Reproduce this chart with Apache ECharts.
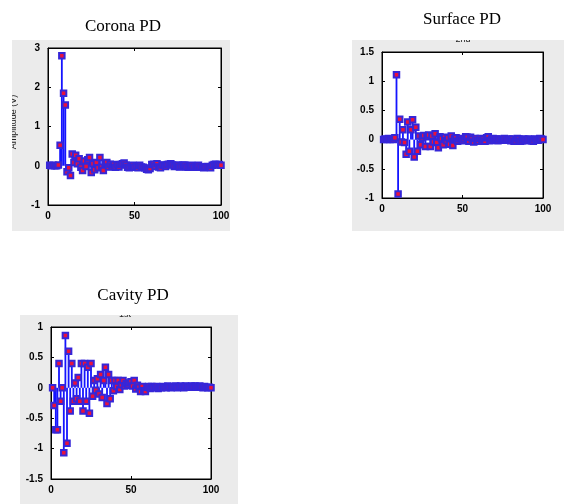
<!DOCTYPE html>
<html>
<head>
<meta charset="utf-8">
<title>PD pulse stem plots</title>
<script src="https://cdn.jsdelivr.net/npm/echarts/dist/echarts.min.js"></script>
<style>
  html, body { margin: 0; padding: 0; background: #fff; }
  #chart { width: 572px; height: 504px; }
</style>
</head>
<body>
<div id="chart"></div>
<script>
// Sample index 1..100 shared by all three panels
const sampleIndex = Array.from({ length: 100 }, (_, i) => i + 1);

const titles = ['Corona PD', 'Surface PD', 'Cavity PD'];

// Pulse amplitudes, one value per sample
const coronaValues = [
  0.01, 0, 0.01, 0, 0, 0.02, 0.52, 2.8, 1.85, 1.55,
  -0.15, -0.05, -0.25, 0.3, 0.08, 0.27, 0.05, 0.18, -0.04, -0.12,
  0.12, -0.02, 0.15, 0.21, -0.17, 0.05, -0.1, 0.08, -0.05, 0.21,
  -0.04, -0.12, 0.06, 0.08, -0.03, 0.04, -0.02, 0.03, -0.04, 0.02,
  -0.03, 0.03, 0.05, 0.07, 0.02, -0.04, -0.05, -0.03, 0.01, -0.04,
  -0.02, -0.05, 0.01, -0.03, -0.04, -0.06, -0.09, -0.1, -0.07, 0.03,
  0.04, -0.02, 0.05, -0.03, -0.05, 0.02, 0.01, -0.02, 0.03, 0.04,
  0.05, 0.02, -0.02, -0.01, 0.02, -0.03, -0.02, 0.01, 0.02, -0.03,
  -0.04, -0.02, 0.01, -0.03, -0.04, -0.02, 0.01, -0.03, -0.04, -0.05,
  -0.03, -0.02, -0.04, -0.05, 0.01, 0.03, 0.04, 0.02, 0.03, 0.01
];

const surfaceValues = [
  0, 0.01, 0, 0.02, 0, 0.01, 0, 0.03, 1.11, -0.93,
  0.35, -0.04, 0.17, -0.05, -0.25, 0.3, -0.2, 0.17, 0.34, -0.3,
  0.21, -0.2, 0.06, -0.09, 0.03, 0.07, -0.12, 0.05, 0.08, -0.12,
  0.06, -0.04, 0.1, -0.05, -0.14, 0.05, 0.02, -0.09, 0.04, -0.02,
  0.03, -0.08, 0.06, -0.1, 0.02, 0.03, -0.03, 0.01, 0.02, -0.02,
  0.01, 0.05, 0.04, -0.03, 0.04, 0.01, -0.04, 0.02, -0.02, -0.03,
  0.02, -0.02, 0.01, -0.03, 0.03, 0.05, -0.02, 0.01, 0.02, -0.01,
  0.01, -0.02, 0.01, 0, -0.01, 0.02, -0.01, 0, 0.01, -0.02,
  0.01, -0.03, -0.02, 0.02, 0.01, -0.03, -0.02, 0.01, 0, -0.02,
  0.01, 0, -0.02, -0.03, 0.01, 0, -0.01, 0.02, 0.01, 0
];

const cavityValues = [
  0, -0.29, -0.69, -0.69, 0.4, -0.22, 0, -1.07, 0.86, -0.91,
  0.6, -0.38, 0.4, -0.22, 0.08, -0.18, 0.17, -0.22, 0.4, -0.38,
  0.4, -0.22, 0.34, -0.42, 0.4, -0.14, 0.12, -0.04, 0.15, -0.1,
  0.22, -0.16, 0.12, 0.34, -0.26, 0.22, -0.18, 0.12, -0.05, 0.12,
  0.02, 0.12, -0.03, 0.05, 0.12, 0.03, 0.07, 0.04, 0.08, 0.1,
  0.03, 0.12, -0.02, 0.04, 0.01, -0.06, 0.02, -0.05, -0.06, 0.01,
  0.02, -0.01, 0.02, 0, 0.01, 0.02, -0.01, 0.01, 0, 0.02,
  0.01, 0, 0.03, 0.01, 0, 0.01, 0.02, 0.03, 0, 0.01,
  0.03, 0.01, 0, 0.03, 0.02, 0.01, 0.02, 0.03, 0.01, 0.03,
  0.02, 0.01, 0.03, 0.01, 0, 0.02, 0.01, 0, 0.01, 0
];

// Axis ranges and tick steps per panel
const xRange = { min: 0, max: 100, interval: 50 };
const yRanges = [
  { min: -1, max: 3, interval: 1 },
  { min: -1, max: 1.5, interval: 0.5 },
  { min: -1.5, max: 1, interval: 0.5 }
];

const panelValues = [coronaValues, surfaceValues, cavityValues];

// Layout of each figure panel (page pixels)
const panels = [
  { bg: [12, 40, 218, 191], grid: [48, 48, 173, 157], title: [118, 13] },
  { bg: [352, 40, 212, 191], grid: [382, 52, 161, 146], title: [457, 6] },
  { bg: [20, 315, 218, 189], grid: [51, 327, 160, 152], title: [128, 282] }
];

const STEM = '#1414ff';
const MARK_FILL = '#e8123c';
const MARK_EDGE = '#3626d8';
const tickFont = { color: '#000', fontSize: 10, fontWeight: 'bold', fontFamily: 'Liberation Sans, Arial, sans-serif' };

const grids = [], xAxes = [], yAxes = [], series = [], titleOpts = [];

panels.forEach((p, i) => {
  grids.push({
    left: p.grid[0], top: p.grid[1], width: p.grid[2], height: p.grid[3],
    show: true, backgroundColor: '#ffffff', borderColor: '#000', borderWidth: 1
  });
  titleOpts.push({
    text: titles[i], left: p.title[0], top: p.title[1], textAlign: 'center',
    textStyle: { fontFamily: 'Liberation Serif, Times New Roman, serif', fontSize: 17, fontWeight: 'normal', color: '#000' }
  });
  const axisCommon = {
    gridIndex: i, type: 'value',
    axisLine: { show: true, onZero: false, lineStyle: { color: '#000', width: 1 } },
    axisTick: { show: true, inside: true, length: 3, lineStyle: { color: '#000' } },
    splitLine: { show: false }
  };
  xAxes.push(Object.assign({}, axisCommon, xRange, {
    position: 'bottom',
    axisLabel: Object.assign({ margin: 6 }, tickFont)
  }));
  xAxes.push(Object.assign({}, axisCommon, xRange, {
    position: 'top', axisLabel: { show: false }
  }));
  yAxes.push(Object.assign({}, axisCommon, yRanges[i], {
    position: 'left',
    axisLabel: Object.assign({ margin: 8 }, tickFont)
  }));
  yAxes.push(Object.assign({}, axisCommon, yRanges[i], {
    position: 'right', axisLabel: { show: false }
  }));

  const pts = sampleIndex.map((x, k) => [x, panelValues[i][k]]);
  // stems from the zero baseline
  series.push({
    type: 'bar', xAxisIndex: 2 * i, yAxisIndex: 2 * i,
    data: pts, barWidth: 1.8, itemStyle: { color: STEM },
    animation: false, silent: true
  });
  // square heads on each stem
  series.push({
    type: 'scatter', xAxisIndex: 2 * i, yAxisIndex: 2 * i,
    data: pts, symbol: 'rect', symbolSize: 5.5, clip: false,
    itemStyle: { color: MARK_FILL, borderColor: MARK_EDGE, borderWidth: 2, opacity: 1 },
    animation: false, silent: true
  });
});

// Figure backgrounds plus the partially hidden axis captions
const graphics = [];
panels.forEach(p => {
  graphics.push({
    type: 'rect', z: -10, silent: true,
    shape: { x: p.bg[0], y: p.bg[1], width: p.bg[2], height: p.bg[3] },
    style: { fill: '#ebebeb' }
  });
});
const capFont = '9px Liberation Sans, Arial, sans-serif';
graphics.push(
  { type: 'text', z: -5, x: 14, y: 122, rotation: Math.PI / 2, silent: true,
    style: { text: 'Amplitude (V)', font: capFont, fill: '#222', align: 'center', verticalAlign: 'middle' } },
  { type: 'rect', z: 50, silent: true, shape: { x: 0, y: 70, width: 12, height: 110 }, style: { fill: '#fff' } },
  { type: 'text', z: -5, x: 463, y: 40, silent: true,
    style: { text: '2nd', font: capFont, fill: '#222', align: 'center', verticalAlign: 'middle' } },
  { type: 'rect', z: 50, silent: true, shape: { x: 440, y: 30, width: 50, height: 10 }, style: { fill: '#fff' } },
  { type: 'text', z: -5, x: 125, y: 315, silent: true,
    style: { text: '1st', font: capFont, fill: '#222', align: 'center', verticalAlign: 'middle' } },
  { type: 'rect', z: 50, silent: true, shape: { x: 100, y: 305, width: 50, height: 10 }, style: { fill: '#fff' } }
);

const chart = echarts.init(document.getElementById('chart'), null, { renderer: 'canvas' });
chart.setOption({
  backgroundColor: '#ffffff',
  animation: false,
  title: titleOpts,
  grid: grids,
  xAxis: xAxes,
  yAxis: yAxes,
  series: series,
  graphic: graphics
});
</script>
</body>
</html>
